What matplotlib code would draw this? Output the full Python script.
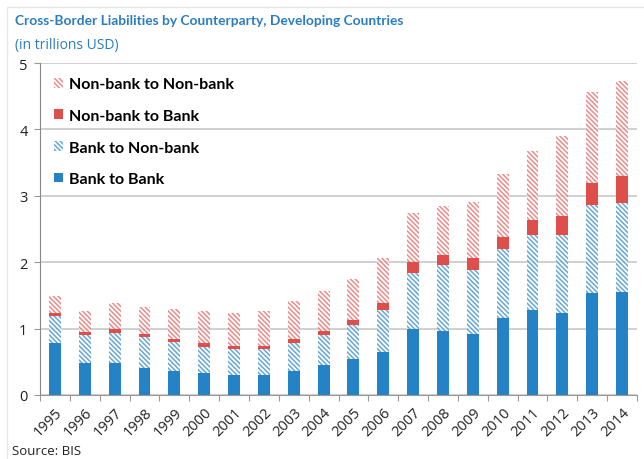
import numpy as np
import matplotlib
matplotlib.use('Agg')
import matplotlib.pyplot as plt
from matplotlib.patches import Patch, Rectangle

years = [str(y) for y in range(1995, 2015)]
bank_to_bank = [0.79, 0.475, 0.475, 0.405, 0.36, 0.33, 0.305, 0.30, 0.365, 0.445,
                0.54, 0.65, 0.99, 0.965, 0.92, 1.16, 1.28, 1.23, 1.53, 1.55]
bank_to_nonbank = [0.40, 0.425, 0.465, 0.465, 0.44, 0.40, 0.395, 0.40, 0.425, 0.465,
                   0.51, 0.63, 0.85, 0.995, 0.97, 1.04, 1.13, 1.18, 1.33, 1.34]
nonbank_to_bank = [0.04, 0.05, 0.05, 0.05, 0.05, 0.05, 0.045, 0.04, 0.055, 0.06,
                   0.075, 0.11, 0.16, 0.15, 0.17, 0.18, 0.23, 0.28, 0.34, 0.41]
nonbank_to_nonbank = [0.26, 0.32, 0.39, 0.41, 0.44, 0.48, 0.485, 0.52, 0.565, 0.60,
                      0.615, 0.68, 0.74, 0.74, 0.84, 0.95, 1.04, 1.21, 1.36, 1.43]

BLUE = '#2482C5'
RED = '#DE4E4B'
TITLE_BLUE = '#2A7DC0'

plt.rcParams['hatch.linewidth'] = 1.1
plt.rcParams['font.family'] = ['Open Sans', 'DejaVu Sans']

fig = plt.figure(figsize=(6.44, 4.60), dpi=100)
ax = fig.add_axes([40 / 644, 64 / 460, 597 / 644, 332 / 460])

x = np.arange(len(years))
w = 0.4
HATCH = '\\' * 7

bb = np.array(bank_to_bank)
bn = np.array(bank_to_nonbank)
nb = np.array(nonbank_to_bank)
nn = np.array(nonbank_to_nonbank)

ax.bar(x, bb, w, color=BLUE, linewidth=0, zorder=3)
ax.bar(x, bn, w, bottom=bb, facecolor='white', edgecolor=BLUE, hatch=HATCH,
       linewidth=0, alpha=0.7, zorder=3)
ax.bar(x, nb, w, bottom=bb + bn, color=RED, linewidth=0, zorder=3)
ax.bar(x, nn, w, bottom=bb + bn + nb, facecolor='white', edgecolor=RED, hatch=HATCH,
       linewidth=0, alpha=0.65, zorder=3)

ax.set_xlim(-0.5, len(years) - 0.5)
ax.set_ylim(0, 5)
ax.set_yticks(range(0, 6))
ax.set_xticks(x)
ax.set_xticklabels(years, rotation=45, ha='right', rotation_mode='anchor',
                   fontsize=10.5, color='#222222')
ax.set_xticks(np.arange(-0.5, len(years), 1), minor=True)
ax.tick_params(axis='x', which='major', length=0, pad=7)
ax.tick_params(axis='x', which='minor', length=4, color='#999999', width=0.8)
ax.tick_params(axis='y', length=4, color='#999999', width=0.8, labelsize=10.5,
               labelcolor='#222222', pad=5)
ax.grid(axis='y', color='#C8C8C8', linewidth=1.2, zorder=0)
for s in ['top', 'right']:
    ax.spines[s].set_visible(False)
ax.spines['left'].set_color('#888888')
ax.spines['bottom'].set_color('#999999')

handles = [
    Patch(facecolor='white', edgecolor=RED, hatch=HATCH, linewidth=0, alpha=0.65,
          label='Non-bank to Non-bank'),
    Patch(facecolor=RED, linewidth=0, label='Non-bank to Bank'),
    Patch(facecolor='white', edgecolor=BLUE, hatch=HATCH, linewidth=0, alpha=0.7,
          label='Bank to Non-bank'),
    Patch(facecolor=BLUE, linewidth=0, label='Bank to Bank'),
]
leg = ax.legend(handles=handles, loc='upper left', bbox_to_anchor=(0.0, 1.0),
                frameon=False, handlelength=0.55, handleheight=0.55, handletextpad=0.35,
                labelspacing=1.1, prop={'family': 'Lato', 'weight': 'bold', 'size': 11.5})

fig.text(15 / 644, 1 - 21 / 460, 'Cross-Border Liabilities by Counterparty, Developing Countries',
         fontsize=9.9, fontweight='bold', color=TITLE_BLUE, va='center', ha='left',
         family='Lato')
fig.text(15 / 644, 1 - 45 / 460, '(in trillions USD)', fontsize=10, color=TITLE_BLUE,
         va='center', ha='left')
fig.text(12 / 644, 1 - 452 / 460, 'Source: BIS', fontsize=9.5, color='#222222',
         va='center', ha='left')

fig.patches.append(Rectangle((7 / 644, -0.1), 1.1, 1 - 8 / 460 + 0.1, transform=fig.transFigure,
                             fill=False, edgecolor='#E6E6E6', linewidth=1.0))

fig.savefig('out.png', dpi=100)
